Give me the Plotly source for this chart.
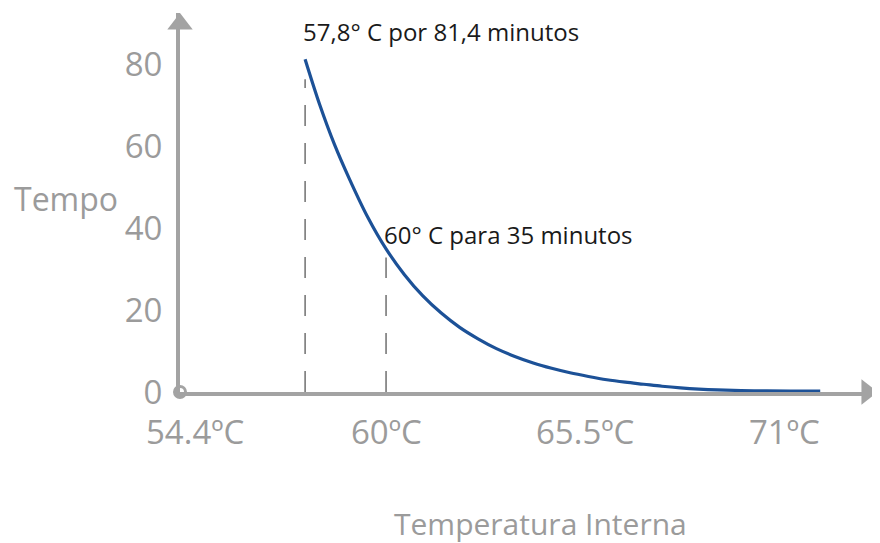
import plotly.graph_objects as go

# Data
temps = [57.8, 58.2, 58.6, 59.0, 59.5, 60.0, 60.5, 61.0, 61.5, 62.0, 62.5, 63.0, 63.5,
         64.0, 64.5, 65.0, 65.5, 66.0, 66.5, 67.0, 67.5, 68.0, 68.5, 69.0, 70.0, 71.0, 71.8]
minutes = [81.4, 70.2, 60.5, 52.2, 42.8, 35.0, 28.7, 23.5, 19.3, 15.8, 13.0, 10.6, 8.7,
           7.1, 5.8, 4.7, 3.8, 3.0, 2.4, 1.9, 1.4, 1.0, 0.7, 0.5, 0.3, 0.2, 0.2]

marked_temps = [57.8, 60.0]
marked_minutes = [81.4, 35.0]
marked_labels = ["57,8° C por 81,4 minutos", "60° C para 35 minutos"]

x_tick_vals = [54.4, 60, 65.5, 71]
x_tick_text = ["54.4ºC", "60ºC", "65.5ºC", "71ºC"]
y_tick_vals = [0, 20, 40, 60, 80]

x_title = "Temperatura Interna"
y_title = "Tempo"

# styling
X_RANGE = [54.4, 73.37]
Y_RANGE = [0, 92.7]
AXIS_GRAY = "#a3a3a3"
TEXT_GRAY = "#9b9b9b"
FONT = "Open Sans"
x_label_shifts = [15, 0, -3, -6]   # pixel nudges as in the original layout

fig = go.Figure()

# dashed guide lines
for t, m in zip(marked_temps, marked_minutes):
    fig.add_trace(go.Scatter(
        x=[t, t], y=[0, m * 0.94], mode="lines",
        line=dict(color="#666666", width=1.4, dash="21px,17px"),
        hoverinfo="skip", showlegend=False))

# curve
fig.add_trace(go.Scatter(
    x=temps, y=minutes, mode="lines",
    line=dict(color="#1c5197", width=3.2, shape="spline", smoothing=1.0),
    showlegend=False, cliponaxis=False))

# axis arrow heads and origin circle
fig.add_trace(go.Scatter(
    x=[X_RANGE[1] - 0.3], y=[Y_RANGE[0]], mode="markers",
    marker=dict(symbol="triangle-right", size=22, color=AXIS_GRAY),
    cliponaxis=False, hoverinfo="skip", showlegend=False))
fig.add_trace(go.Scatter(
    x=[X_RANGE[0]], y=[Y_RANGE[1] - 2.7], mode="markers",
    marker=dict(symbol="triangle-up", size=22, color=AXIS_GRAY),
    cliponaxis=False, hoverinfo="skip", showlegend=False))
fig.add_trace(go.Scatter(
    x=[X_RANGE[0]], y=[Y_RANGE[0]], mode="markers",
    marker=dict(symbol="circle", size=11, color="white",
                line=dict(color=AXIS_GRAY, width=3)),
    cliponaxis=False, hoverinfo="skip", showlegend=False))

annotations = []
for t, m, lab, ys in zip(marked_temps, marked_minutes, marked_labels, [28, 14]):
    annotations.append(dict(
        x=t, y=m, xref="x", yref="y", text=lab, showarrow=False,
        xanchor="left", yanchor="middle", xshift=-4, yshift=ys,
        font=dict(family=FONT, size=24, color="#1a1a1a")))

# x tick labels (placed as in the original artwork)
for v, txt, dx in zip(x_tick_vals, x_tick_text, x_label_shifts):
    annotations.append(dict(
        x=v, y=0, xref="x", yref="y", text=txt, showarrow=False,
        xanchor="center", yanchor="middle", xshift=dx, yshift=-39,
        font=dict(family=FONT, size=33, color=TEXT_GRAY)))

annotations.append(dict(
    x=-0.163, y=0.511, xref="paper", yref="paper", text=y_title, showarrow=False,
    xanchor="center", yanchor="middle",
    font=dict(family=FONT, size=32, color=TEXT_GRAY)))
annotations.append(dict(
    x=0.516, y=-0.347, xref="paper", yref="paper", text=x_title, showarrow=False,
    xanchor="center", yanchor="middle",
    font=dict(family=FONT, size=30, color=TEXT_GRAY)))

fig.update_layout(
    width=872, height=535,
    margin=dict(l=172, r=2, t=5, b=151),
    paper_bgcolor="white", plot_bgcolor="white",
    annotations=annotations,
    xaxis=dict(range=X_RANGE, showgrid=False, zeroline=False, showline=True,
               linewidth=4, linecolor=AXIS_GRAY, showticklabels=False, ticks=""),
    yaxis=dict(range=Y_RANGE, showgrid=False, zeroline=False, showline=True,
               linewidth=4, linecolor=AXIS_GRAY, tickvals=y_tick_vals,
               ticks="", ticklabelstandoff=7,
               tickfont=dict(family=FONT, size=33, color=TEXT_GRAY)),
)

fig.write_html("out.html")
